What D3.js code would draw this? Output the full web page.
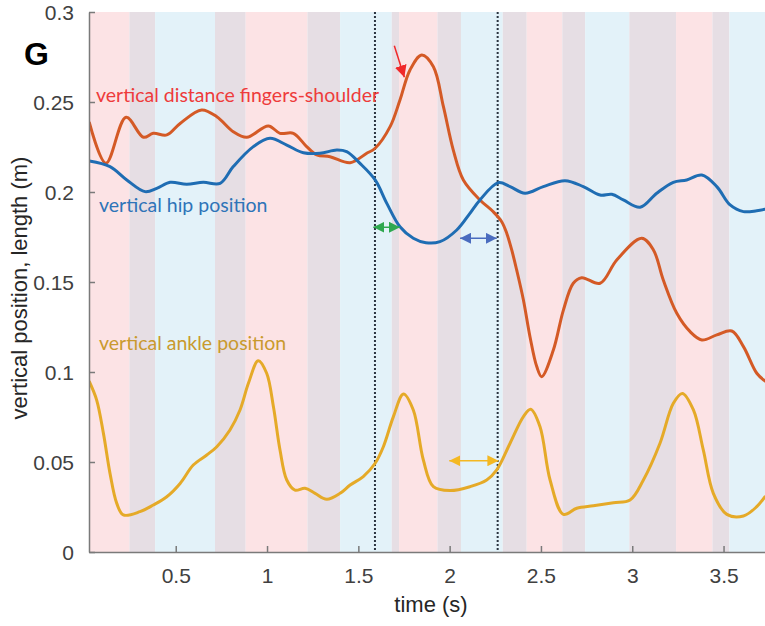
<!DOCTYPE html>
<html>
<head>
<meta charset="utf-8">
<script src="https://cdn.jsdelivr.net/npm/d3@7"></script>
<style>
  body { margin: 0; background: #fff; }
  svg { display: block; }
</style>
</head>
<body>
<div id="chart"></div>
<script>
// phase bands (time edges, s) and their kind
const bandEdges = [0.025, 0.246, 0.387, 0.715, 0.883, 1.221, 1.400, 1.683, 1.723, 1.933,
                   2.062, 2.291, 2.422, 2.617, 2.742, 2.984, 3.240, 3.439, 3.532, 3.727];
const bandKind = ["red", "mix", "blue", "mix", "red", "mix", "blue", "mix", "red", "mix",
                  "blue", "mix", "red", "mix", "blue", "mix", "red", "mix", "blue"];

// vertical distance fingers-shoulder (m)
const fingersT = [0.027, 0.118, 0.228, 0.323, 0.377, 0.451, 0.524, 0.642, 0.725, 0.815, 0.889,
                  1.007, 1.071, 1.144, 1.217, 1.272, 1.345, 1.455, 1.546, 1.592, 1.674, 1.728,
                  1.783, 1.847, 1.911, 1.966, 2.020, 2.075, 2.166, 2.239, 2.285, 2.313, 2.340,
                  2.367, 2.404, 2.440, 2.477, 2.504, 2.568, 2.623, 2.677, 2.723, 2.824, 2.915,
                  3.052, 3.116, 3.170, 3.244, 3.317, 3.381, 3.463, 3.545, 3.609, 3.682, 3.727];
const fingersV = [0.2385, 0.216, 0.2415, 0.2304, 0.2326, 0.2317, 0.2381, 0.2456, 0.2418, 0.2335, 0.2304,
                  0.2367, 0.2326, 0.2326, 0.2252, 0.2206, 0.2196, 0.2163, 0.2215, 0.2243, 0.2363, 0.2511,
                  0.2678, 0.2761, 0.2696, 0.2474, 0.2233, 0.2067, 0.1956, 0.1890, 0.1835, 0.1770, 0.1678,
                  0.1567, 0.1400, 0.1196, 0.1030, 0.0974, 0.1122, 0.1344, 0.1493, 0.1524, 0.1493, 0.1622,
                  0.1743, 0.1678, 0.1511, 0.1326, 0.1224, 0.1178, 0.1206, 0.1228, 0.1141, 0.0993, 0.095];

// vertical hip position (m)
const hipT = [0.027, 0.140, 0.232, 0.332, 0.396, 0.469, 0.560, 0.651, 0.743, 0.815, 0.925,
              1.016, 1.108, 1.199, 1.290, 1.382, 1.436, 1.509, 1.592, 1.656, 1.728, 1.801,
              1.870, 1.947, 2.039, 2.110, 2.166, 2.267, 2.331, 2.413, 2.513, 2.632, 2.732,
              2.824, 2.888, 2.951, 3.043, 3.134, 3.225, 3.298, 3.381, 3.463, 3.536, 3.609,
              3.682, 3.727];
const hipV = [0.2172, 0.2141, 0.2067, 0.2002, 0.2020, 0.2054, 0.2043, 0.2054, 0.2048, 0.2141, 0.2252,
              0.2298, 0.2261, 0.2218, 0.2215, 0.2233, 0.2224, 0.2159, 0.2067, 0.1937, 0.1807, 0.1743,
              0.1718, 0.1724, 0.1789, 0.1880, 0.1956, 0.2052, 0.2030, 0.1993, 0.2030, 0.2063, 0.2030,
              0.1983, 0.1987, 0.1956, 0.1915, 0.1993, 0.2054, 0.2067, 0.2094, 0.2030, 0.1928, 0.1891,
              0.1896, 0.1904];

// vertical ankle position (m)
const ankleT = [0.027, 0.067, 0.104, 0.140, 0.177, 0.213, 0.304, 0.377, 0.451, 0.524, 0.596,
                0.670, 0.725, 0.797, 0.852, 0.898, 0.952, 0.998, 1.035, 1.071, 1.108, 1.153,
                1.208, 1.263, 1.327, 1.400, 1.455, 1.527, 1.592, 1.637, 1.692, 1.747, 1.801,
                1.856, 1.911, 2.002, 2.112, 2.203, 2.258, 2.331, 2.404, 2.444, 2.495, 2.550,
                2.623, 2.696, 2.787, 2.897, 2.988, 3.061, 3.152, 3.225, 3.274, 3.335, 3.389,
                3.444, 3.518, 3.609, 3.682, 3.727];
const ankleV = [0.0946, 0.0844, 0.0659, 0.0437, 0.0270, 0.0206, 0.0224, 0.0261, 0.0307, 0.0381, 0.0483,
                0.0539, 0.0585, 0.0678, 0.0789, 0.0937, 0.1063, 0.0993, 0.0807, 0.0567, 0.0400, 0.0344,
                0.0354, 0.0326, 0.0293, 0.0326, 0.0372, 0.0419, 0.0493, 0.0585, 0.0752, 0.0878, 0.0789,
                0.0511, 0.0363, 0.0341, 0.0363, 0.0400, 0.0456, 0.0604, 0.0752, 0.0793, 0.0696, 0.0400,
                0.0209, 0.0243, 0.0257, 0.0274, 0.0289, 0.0400, 0.0604, 0.0826, 0.0881, 0.0789, 0.0567,
                0.0326, 0.0209, 0.0200, 0.0252, 0.0307];

// event markers and annotations
const eventTimes = [1.591, 2.263];
const xTicks = [0.5, 1, 1.5, 2, 2.5, 3, 3.5];
const yTicks = [0, 0.05, 0.1, 0.15, 0.2, 0.25, 0.3];
const seriesLabels = ["vertical distance fingers-shoulder", "vertical hip position", "vertical ankle position"];

const width = 765, height = 626;
const margin = { top: 12, right: 0, bottom: 74, left: 89 };
const plotW = width - margin.left - margin.right;
const plotH = height - margin.top - margin.bottom;

const bandColor = { red: "#fce3e5", mix: "#e6dee4", blue: "#e3f2f9" };

const svg = d3.select("#chart").append("svg")
    .attr("width", width)
    .attr("height", height)
    .style("font-family", "'Liberation Sans', Arial, sans-serif");

const g = svg.append("g")
    .attr("transform", `translate(${margin.left},${margin.top})`);

const x = d3.scaleLinear().domain([0.025, 3.727]).range([0, plotW]);
const y = d3.scaleLinear().domain([0, 0.3]).range([plotH, 0]);

const defs = svg.append("defs");
defs.append("clipPath").attr("id", "plot-clip")
    .append("rect").attr("width", plotW).attr("height", plotH + 2).attr("y", -1);

function marker(id, color, w, h) {
    defs.append("marker")
        .attr("id", id)
        .attr("viewBox", "0 0 10 10")
        .attr("refX", 10).attr("refY", 5)
        .attr("markerUnits", "userSpaceOnUse")
        .attr("markerWidth", w).attr("markerHeight", h)
        .attr("orient", "auto-start-reverse")
        .append("path")
        .attr("d", "M0,0L10,5L0,10Z")
        .attr("fill", color);
}
marker("head-green", "#2fa84f", 11, 11);
marker("head-blue", "#4a6cbf", 11, 11);
marker("head-yellow", "#f4b822", 11, 11);
marker("head-red", "#f0282a", 12, 12);

// background bands
g.append("g").selectAll("rect")
    .data(bandKind)
    .join("rect")
    .attr("x", (d, i) => x(bandEdges[i]))
    .attr("width", (d, i) => x(bandEdges[i + 1]) - x(bandEdges[i]))
    .attr("y", 0)
    .attr("height", plotH)
    .attr("fill", d => bandColor[d]);

// dotted event lines
g.append("g").selectAll("line")
    .data(eventTimes)
    .join("line")
    .attr("x1", d => x(d)).attr("x2", d => x(d))
    .attr("y1", 0).attr("y2", plotH)
    .attr("stroke", "#2b3440")
    .attr("stroke-width", 2)
    .attr("stroke-dasharray", "2,2");

// curves
const line = d3.line()
    .x(d => x(d[0]))
    .y(d => y(d[1]))
    .curve(d3.curveCatmullRom.alpha(0.5));

const series = [
    { t: fingersT, v: fingersV, color: "#d45a26" },
    { t: hipT, v: hipV, color: "#1f6db3" },
    { t: ankleT, v: ankleV, color: "#e5aa28" }
];

g.append("g").attr("clip-path", "url(#plot-clip)")
    .selectAll("path")
    .data(series)
    .join("path")
    .attr("d", s => line(s.t.map((t, i) => [t, s.v[i]])))
    .attr("fill", "none")
    .attr("stroke", s => s.color)
    .attr("stroke-width", 3)
    .attr("stroke-linejoin", "round")
    .attr("stroke-linecap", "round");

// axes (MATLAB style, ticks inward, no box)
const xAxis = g.append("g")
    .attr("transform", `translate(0,${plotH})`)
    .call(d3.axisBottom(x).tickValues(xTicks).tickSizeInner(-6).tickSizeOuter(0).tickPadding(16)
        .tickFormat(d3.format("")));
const yAxis = g.append("g")
    .call(d3.axisLeft(y).tickValues(yTicks).tickSizeInner(-6).tickSizeOuter(0).tickPadding(15)
        .tickFormat(d3.format("")));

[xAxis, yAxis].forEach(ax => {
    ax.select(".domain").attr("stroke", "#7a7a7a").attr("stroke-width", 1.5);
    ax.selectAll(".tick line").attr("stroke", "#7a7a7a").attr("stroke-width", 1.5);
    ax.selectAll(".tick text")
        .attr("fill", "#404040")
        .style("font-size", "21px")
        .style("font-family", "'Liberation Sans', Arial, sans-serif");
});
yAxis.selectAll(".tick text").attr("dy", "0.36em");

// axis titles
svg.append("text")
    .attr("x", 431).attr("y", 612)
    .attr("text-anchor", "middle")
    .attr("fill", "#262626")
    .style("font-size", "22px")
    .text("time (s)");

svg.append("text")
    .attr("transform", "translate(27,288) rotate(-90)")
    .attr("text-anchor", "middle")
    .attr("fill", "#262626")
    .style("font-size", "22px")
    .text("vertical position, length (m)");

// series labels
const labelSpec = [
    { text: seriesLabels[0], x: 96, y: 102, color: "#ee3b3b" },
    { text: seriesLabels[1], x: 99, y: 212, color: "#2e74b8" },
    { text: seriesLabels[2], x: 99, y: 350, color: "#c99a2e" }
];
svg.append("g").selectAll("text")
    .data(labelSpec)
    .join("text")
    .attr("x", d => d.x).attr("y", d => d.y)
    .attr("fill", d => d.color)
    .style("font-family", "Lato, 'Open Sans', sans-serif")
    .style("font-size", "19.5px")
    .text(d => d.text);

// panel letter
svg.append("text")
    .attr("x", 24).attr("y", 65)
    .style("font-size", "32px")
    .style("font-weight", "bold")
    .attr("fill", "#000")
    .text("G");

// annotation arrows (data coords: t0, v0, t1, v1)
const arrows = [
    { p: [1.582, 0.1804, 1.728, 0.1804], color: "#2fa84f", head: "head-green", both: true },
    { p: [2.057, 0.1743, 2.258, 0.1743], color: "#4a6cbf", head: "head-blue", both: true },
    { p: [1.998, 0.0507, 2.267, 0.0507], color: "#f4b822", head: "head-yellow", both: true },
    { p: [1.697, 0.2813, 1.752, 0.2637], color: "#f0282a", head: "head-red", both: false }
];
g.append("g").selectAll("line")
    .data(arrows)
    .join("line")
    .attr("x1", d => x(d.p[0])).attr("y1", d => y(d.p[1]))
    .attr("x2", d => x(d.p[2])).attr("y2", d => y(d.p[3]))
    .attr("stroke", d => d.color)
    .attr("stroke-width", 1.5)
    .attr("marker-end", d => `url(#${d.head})`)
    .attr("marker-start", d => d.both ? `url(#${d.head})` : null);
</script>
</body>
</html>
